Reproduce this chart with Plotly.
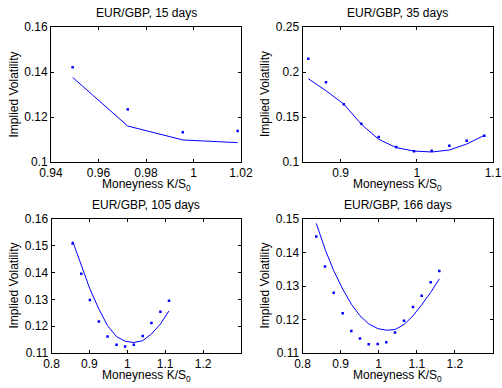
import plotly.graph_objects as go

# ---- data ----
titles = ["EUR/GBP, 15 days", "EUR/GBP, 35 days", "EUR/GBP, 105 days", "EUR/GBP, 166 days"]

k15 = [0.9491, 0.9723, 0.9955, 1.0186]
mkt15 = [0.1421, 0.1234, 0.1132, 0.1138]
mod15 = [0.1376, 0.1160, 0.1098, 0.1086]

k35 = [0.8576, 0.8808, 0.9041, 0.9272, 0.9500, 0.9731, 0.9963, 1.0195, 1.0427, 1.0655, 1.0886]
mkt35 = [0.2148, 0.1886, 0.1641, 0.1426, 0.1278, 0.1167, 0.1119, 0.1126, 0.1181, 0.1237, 0.1292]
mod35 = [0.1926, 0.1792, 0.1644, 0.1419, 0.1252, 0.1159, 0.1122, 0.1111, 0.1133, 0.1200, 0.1296]

k105 = [0.8558, 0.8785, 0.9013, 0.9250, 0.9479, 0.9716, 0.9942, 1.0171, 1.0408, 1.0637, 1.0874, 1.1100]
mkt105 = [0.1509, 0.1396, 0.1298, 0.1218, 0.1162, 0.1131, 0.1124, 0.1131, 0.1163, 0.1212, 0.1254, 0.1295]
mod105 = [0.1517, 0.1426, 0.1339, 0.1264, 0.1202, 0.1161, 0.1144, 0.1139, 0.1146, 0.1171, 0.1208, 0.1257]

k166 = [0.8362, 0.8591, 0.8819, 0.9055, 0.9281, 0.9509, 0.9738, 0.9974, 1.0200, 1.0428, 1.0664, 1.0900, 1.1128, 1.1365, 1.1591]
mkt166 = [0.1448, 0.1358, 0.1280, 0.1219, 0.1166, 0.1143, 0.1126, 0.1127, 0.1132, 0.1161, 0.1196, 0.1237, 0.1271, 0.1311, 0.1345]
mod166 = [0.1487, 0.1410, 0.1346, 0.1291, 0.1246, 0.1211, 0.1187, 0.1173, 0.1168, 0.1170, 0.1185, 0.1211, 0.1244, 0.1281, 0.1321]

xranges = [[0.94, 1.02], [0.85, 1.1], [0.8, 1.3], [0.8, 1.3]]
yranges = [[0.1, 0.16], [0.1, 0.25], [0.11, 0.16], [0.11, 0.15]]
xticks = [[0.94, 0.96, 0.98, 1.0, 1.02], [0.9, 1.0, 1.1], [0.8, 0.9, 1.0, 1.1, 1.2], [0.8, 0.9, 1.0, 1.1, 1.2]]
xticktext = [["0.94", "0.96", "0.98", "1", "1.02"], ["0.9", "1", "1.1"],
             ["0.8", "0.9", "1", "1.1", "1.2"], ["0.8", "0.9", "1", "1.1", "1.2"]]
yticks = [[0.1, 0.12, 0.14, 0.16], [0.1, 0.15, 0.2, 0.25],
          [0.11, 0.12, 0.13, 0.14, 0.15, 0.16], [0.11, 0.12, 0.13, 0.14, 0.15]]
yticktext = [["0.1", "0.12", "0.14", "0.16"], ["0.1", "0.15", "0.2", "0.25"],
             ["0.11", "0.12", "0.13", "0.14", "0.15", "0.16"], ["0.11", "0.12", "0.13", "0.14", "0.15"]]

xlabel = "Moneyness K/S<sub>0</sub>"
ylabel = "Implied Volatility"

series = [(k15, mkt15, mod15), (k35, mkt35, mod35), (k105, mkt105, mod105), (k166, mkt166, mod166)]

W, H = 502, 388
# axes boxes in pixels (left, right, top, bottom)
boxes = [(51, 241, 27, 162), (302.5, 493, 27, 162), (51.5, 241, 219, 353), (302.5, 493, 219, 353)]

FONT = "Liberation Sans, Arial, Helvetica, sans-serif"
FS = 12
BLUE = "#0000FF"

fig = go.Figure()
layout = dict(width=W, height=H, margin=dict(l=0, r=0, t=0, b=0, autoexpand=False),
              paper_bgcolor="white", plot_bgcolor="white", showlegend=False,
              font=dict(family=FONT, size=FS, color="black"))
annotations = []
for i, ((kx, mk, md), (l, r, t, b)) in enumerate(zip(series, boxes)):
    n = "" if i == 0 else str(i + 1)
    fig.add_trace(go.Scatter(x=kx, y=md, mode="lines", line=dict(color=BLUE, width=1),
                             xaxis="x" + n, yaxis="y" + n, hoverinfo="skip"))
    fig.add_trace(go.Scatter(x=kx, y=mk, mode="markers", marker=dict(color=BLUE, size=2.5, symbol="square"),
                             xaxis="x" + n, yaxis="y" + n))
    common = dict(showgrid=False, zeroline=False, showline=True, linecolor="black", linewidth=1,
                  mirror="allticks", ticks="inside", ticklen=3, tickcolor="black", tickwidth=1,
                  tickfont=dict(family=FONT, size=FS, color="black"), fixedrange=True)
    layout["xaxis" + n] = dict(common, domain=[l / W, r / W], range=xranges[i], anchor="y" + n,
                               tickmode="array", tickvals=xticks[i], ticktext=xticktext[i])
    layout["yaxis" + n] = dict(common, domain=[1 - b / H, 1 - t / H], range=yranges[i], anchor="x" + n,
                               tickmode="array", tickvals=yticks[i], ticktext=yticktext[i])
    cx = (l + r) / 2
    cy = (t + b) / 2
    annotations.append(dict(text=titles[i], x=cx / W, y=1 - (t - 14) / H, xref="paper", yref="paper",
                            xanchor="center", yanchor="middle", showarrow=False,
                            font=dict(family=FONT, size=FS, color="black")))
    annotations.append(dict(text=xlabel, x=cx / W, y=1 - (b + 23) / H, xref="paper", yref="paper",
                            xanchor="center", yanchor="middle", showarrow=False,
                            font=dict(family=FONT, size=FS, color="black")))
    annotations.append(dict(text=ylabel, x=(l - 38) / W, y=1 - cy / H, xref="paper", yref="paper",
                            xanchor="center", yanchor="middle", showarrow=False, textangle=-90,
                            font=dict(family=FONT, size=FS, color="black")))
layout["annotations"] = annotations
fig.update_layout(**layout)
fig.write_html("out.html", config=dict(displayModeBar=False, staticPlot=True),
               post_script="document.body.style.margin='0px';document.body.style.overflow='hidden';")
